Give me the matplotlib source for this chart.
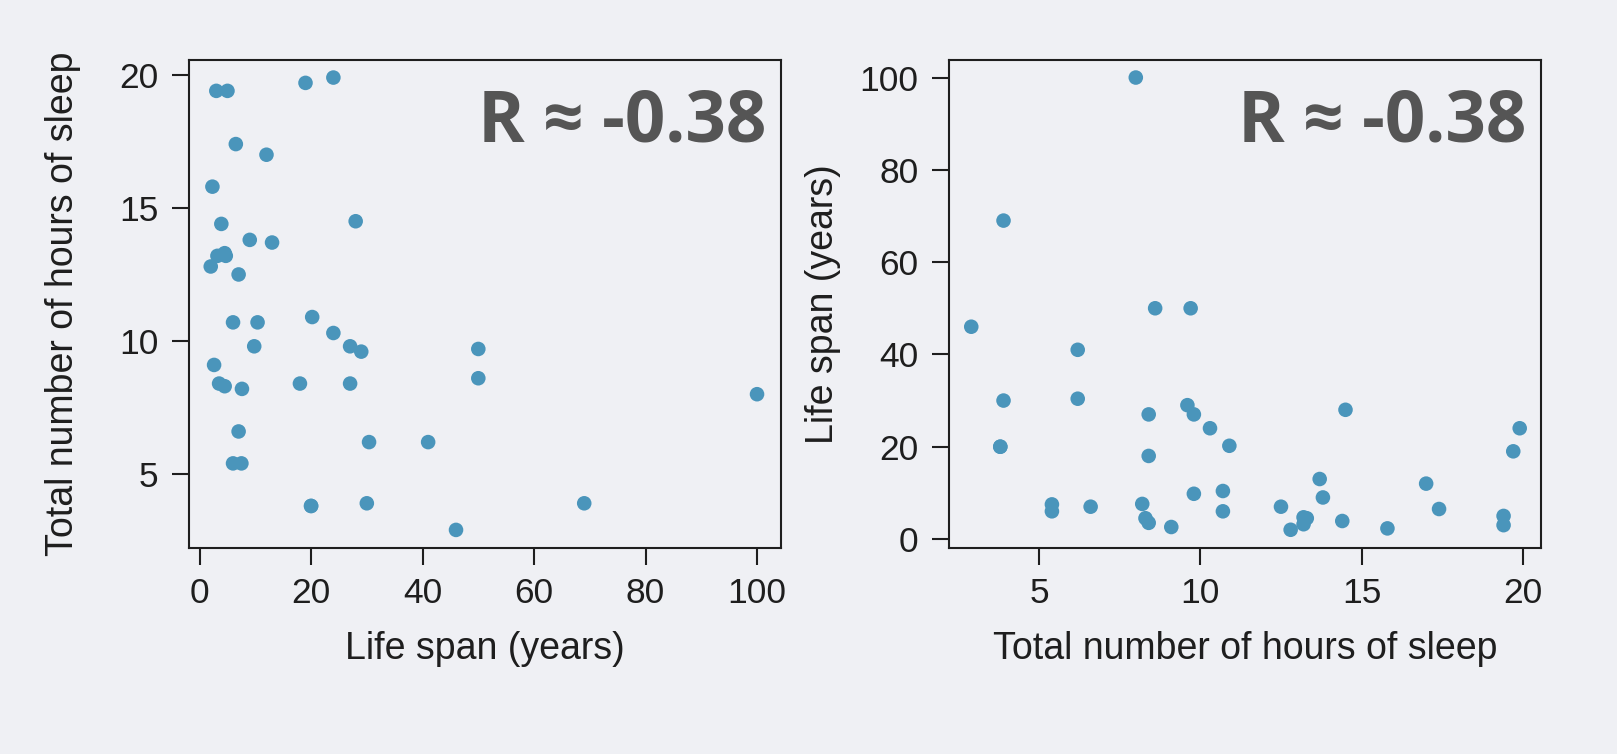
import matplotlib
matplotlib.use("Agg")
import matplotlib.pyplot as plt

# mammals with complete records: total sleep (hours/day) and life span (years)
total_sleep = [8.3, 3.9, 9.8, 19.7, 6.2, 14.5, 9.7, 12.5, 3.9, 8.4,
               8.6, 10.7, 10.7, 3.8, 14.4, 6.2, 13.8, 8.2, 2.9, 9.1,
               19.9, 8.0, 13.2, 12.8, 19.4, 17.4, 17.0, 10.9, 13.7, 8.4,
               8.4, 13.2, 9.8, 9.6, 6.6, 5.4, 3.8, 13.3, 5.4, 15.8,
               10.3, 19.4]
life_span = [4.5, 69, 27, 19, 30.4, 28, 50, 7, 30, 3.5,
             50, 6, 10.4, 20, 3.9, 41, 9, 7.6, 46, 2.6,
             24, 100, 3.2, 2, 5, 6.5, 12, 20.2, 13, 27,
             18, 4.7, 9.8, 29, 7, 6, 20, 4.5, 7.5, 2.3,
             24, 3]
r_label = "R \u2248 -0.38"

bg = "#eff0f4"
dot = "#4a95bb"
ink = "#1e1e1e"

plt.rcParams['font.family'] = ['Liberation Sans', 'DejaVu Sans']

fig = plt.figure(figsize=(16.17, 7.54), dpi=100, facecolor=bg)
ax1 = fig.add_axes([189/1617, 1-548/754, 592/1617, 488/754])
ax2 = fig.add_axes([949/1617, 1-548/754, 592/1617, 488/754])

def style(ax):
    ax.set_facecolor(bg)
    for s in ax.spines.values():
        s.set_color(ink)
        s.set_linewidth(1.5)
    ax.tick_params(direction='out', length=12, width=1.5, color=ink,
                   labelsize=25.5, labelcolor=ink)
    ax.tick_params(axis='y', pad=10)
    ax.tick_params(axis='x', pad=9)

# left: sleep against life span
ax1.scatter(life_span, total_sleep, s=110, color=dot, edgecolors='none', zorder=3)
ax1.set_xlim(-1.9, 104.3)
ax1.set_ylim(2.22, 20.56)
ax1.set_xticks([0, 20, 40, 60, 80, 100])
ax1.set_yticks([5, 10, 15, 20])
ax1.set_xlabel("Life span (years)", fontsize=27, color=ink)
ax1.set_ylabel("Total number of hours of sleep", fontsize=27, color=ink)
style(ax1)

# right: same data with the axes swapped
ax2.scatter(total_sleep, life_span, s=110, color=dot, edgecolors='none', zorder=3)
ax2.set_xlim(2.21, 20.56)
ax2.set_ylim(-1.95, 103.8)
ax2.set_xticks([5, 10, 15, 20])
ax2.set_yticks([0, 20, 40, 60, 80, 100])
ax2.set_xlabel("Total number of hours of sleep", fontsize=27, color=ink)
ax2.set_ylabel("Life span (years)", fontsize=27, color=ink)
style(ax2)

for ax in (ax1, ax2):
    ax.yaxis.set_label_coords(-0.182, 0.5)
    ax.xaxis.set_label_coords(0.5, -0.17)
    ax.text(0.976, 0.833, r_label, transform=ax.transAxes, ha='right',
            va='baseline', fontsize=51, fontweight='bold', color='#555555',
            family=['Open Sans', 'DejaVu Sans'])

fig.savefig("out.png", dpi=100, facecolor=bg)
